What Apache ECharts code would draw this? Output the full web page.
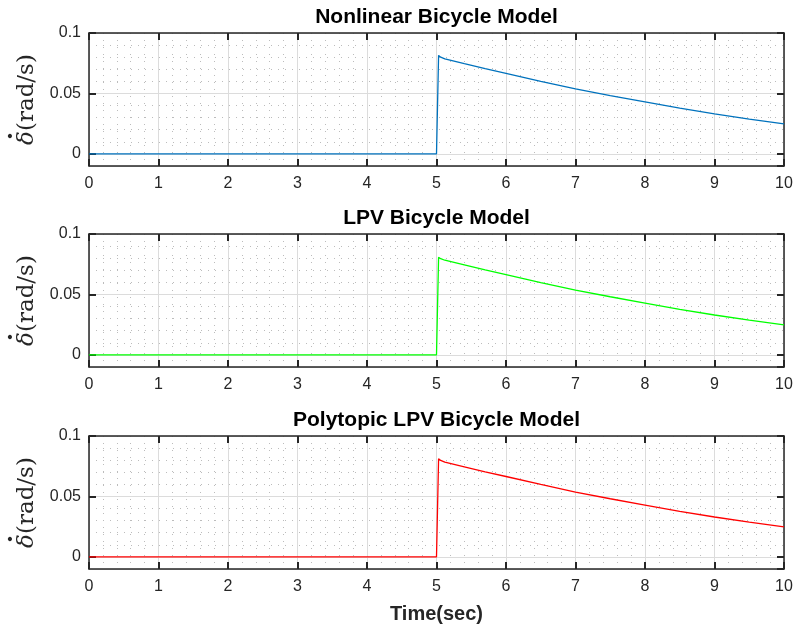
<!DOCTYPE html>
<html>
<head>
<meta charset="utf-8">
<script src="https://cdn.jsdelivr.net/npm/echarts@6/dist/echarts.min.js"></script>
<style>
  html, body { margin: 0; padding: 0; background: #fff; }
  #chart { width: 796px; height: 626px; }
</style>
</head>
<body>
<div id="chart"></div>
<script>
// Steering-rate response of three bicycle models (step at t = 5 s)
const time = [0, 5, 5.03, 5.06, 5.12, 5.4, 5.7, 6, 6.5, 7, 7.5, 8, 8.5, 9, 9.5, 10];

const nonlinearRate = [0, 0, 0.0815, 0.0800, 0.0786, 0.0746, 0.0705, 0.0666, 0.0600, 0.0537, 0.0482, 0.0430, 0.0378, 0.0331, 0.0288, 0.0248];
const lpvRate       = [0, 0, 0.0808, 0.0796, 0.0783, 0.0744, 0.0703, 0.0664, 0.0598, 0.0536, 0.0481, 0.0429, 0.0377, 0.0330, 0.0287, 0.0248];
const polyLpvRate   = [0, 0, 0.0812, 0.0798, 0.0784, 0.0745, 0.0704, 0.0665, 0.0599, 0.0536, 0.0481, 0.0429, 0.0377, 0.0330, 0.0287, 0.0248];

const panelTitles = ['Nonlinear Bicycle Model', 'LPV Bicycle Model', 'Polytopic LPV Bicycle Model'];
const panelSeries = [nonlinearRate, lpvRate, polyLpvRate];
const lineColors = ['#0072BD', '#00FF00', '#FF0000'];
const xTicks = [0, 1, 2, 3, 4, 5, 6, 7, 8, 9, 10];
const yTickLabels = ['0', '0.05', '0.1'];
const xLabel = 'Time(sec)';
// two-line rich label: a dot placed over the delta, then δ(rad/s)
const yLabel = '{dot|·}\n{d|δ}{n|(rad/s)}';

const AX = '#262626';
const MAJOR_GRID = '#dcdcdc';
const MINOR_GRID = '#bcbcbc';
const SANS = 'Liberation Sans, Arial, sans-serif';
const SERIF = 'DejaVu Serif, serif';
const panelTops = [33, 234, 436];
const plotLeft = 89, plotRight = 12, plotHeight = 133;

const grids = [], xAxes = [], yAxes = [], series = [], titles = [];

panelTops.forEach((top, i) => {
  grids.push({
    left: plotLeft, right: plotRight, top: top, height: plotHeight,
    containLabel: false, outerBoundsMode: 'none'
  });

  titles.push({
    text: panelTitles[i],
    left: 436.5, top: top - 26, textAlign: 'center', padding: 0,
    textStyle: { fontFamily: SANS, fontWeight: 'bold', fontSize: 21, color: '#000' }
  });

  const xBase = {
    gridIndex: i, type: 'value',
    min: xTicks[0], max: xTicks[xTicks.length - 1], interval: 1,
    axisLine: { show: true, onZero: false, lineStyle: { color: AX, width: 1.5 } },
    axisTick: { show: true, inside: true, length: 7, lineStyle: { color: AX, width: 2 } }
  };
  // bottom axis carries labels and grid
  xAxes.push(Object.assign({}, xBase, {
    position: 'bottom',
    axisLabel: { show: true, margin: 10, fontFamily: SANS, fontSize: 16, color: AX },
    splitLine: { show: true, lineStyle: { color: MAJOR_GRID, width: 1 } },
    minorTick: { show: false, splitNumber: 5 },
    minorSplitLine: { show: true, lineStyle: { color: MINOR_GRID, width: 1, type: [1, 6] } },
    name: i === 2 ? xLabel : '',
    nameLocation: 'middle', nameGap: 35,
    nameTextStyle: { fontFamily: SANS, fontWeight: 'bold', fontSize: 20, color: AX }
  }));
  // top frame edge
  xAxes.push(Object.assign({}, xBase, {
    position: 'top',
    axisLabel: { show: false },
    splitLine: { show: false }
  }));

  const yBase = {
    gridIndex: i, type: 'value',
    min: -0.01, max: 0.1, splitNumber: 2,
    axisLine: { show: true, onZero: false, lineStyle: { color: AX, width: 1.5 } },
    axisTick: { show: true, inside: true, length: 7, lineStyle: { color: AX, width: 2 } }
  };
  yAxes.push(Object.assign({}, yBase, {
    position: 'left',
    axisLabel: {
      show: true, margin: 8, showMinLabel: false,
      fontFamily: SANS, fontSize: 16, color: AX,
      formatter: v => {
        const k = [0, 0.05, 0.1].findIndex(t => Math.abs(t - v) < 1e-9);
        return k >= 0 ? yTickLabels[k] : '';
      }
    },
    splitLine: { show: true, lineStyle: { color: MAJOR_GRID, width: 1 } },
    minorTick: { show: false, splitNumber: 5 },
    minorSplitLine: { show: true, lineStyle: { color: MINOR_GRID, width: 1, type: [1, 6] } },
    name: yLabel,
    nameLocation: 'middle', nameGap: 48, nameRotate: 90,
    nameTextStyle: {
      fontFamily: SERIF, fontSize: 23, color: AX,
      rich: {
        dot: { fontFamily: SERIF, fontSize: 23, fontWeight: 'bold', color: AX, align: 'left', padding: [0, 0, 0, 5], lineHeight: 6 },
        d: { fontFamily: SERIF, fontSize: 23, fontStyle: 'italic', color: AX, lineHeight: 24 },
        n: { fontFamily: SERIF, fontSize: 23, color: AX, lineHeight: 24 }
      }
    }
  }));
  yAxes.push(Object.assign({}, yBase, {
    position: 'right',
    axisLabel: { show: false },
    splitLine: { show: false }
  }));

  series.push({
    type: 'line',
    xAxisIndex: 2 * i, yAxisIndex: 2 * i,
    data: time.map((t, k) => [t, panelSeries[i][k]]),
    showSymbol: false, symbol: 'none',
    smooth: false,
    lineStyle: { color: lineColors[i], width: 1.3 },
    animation: false
  });
});

const chart = echarts.init(document.getElementById('chart'), null, { renderer: 'canvas' });
chart.setOption({
  backgroundColor: '#ffffff',
  animation: false,
  title: titles,
  grid: grids,
  xAxis: xAxes,
  yAxis: yAxes,
  series: series
});
</script>
</body>
</html>
